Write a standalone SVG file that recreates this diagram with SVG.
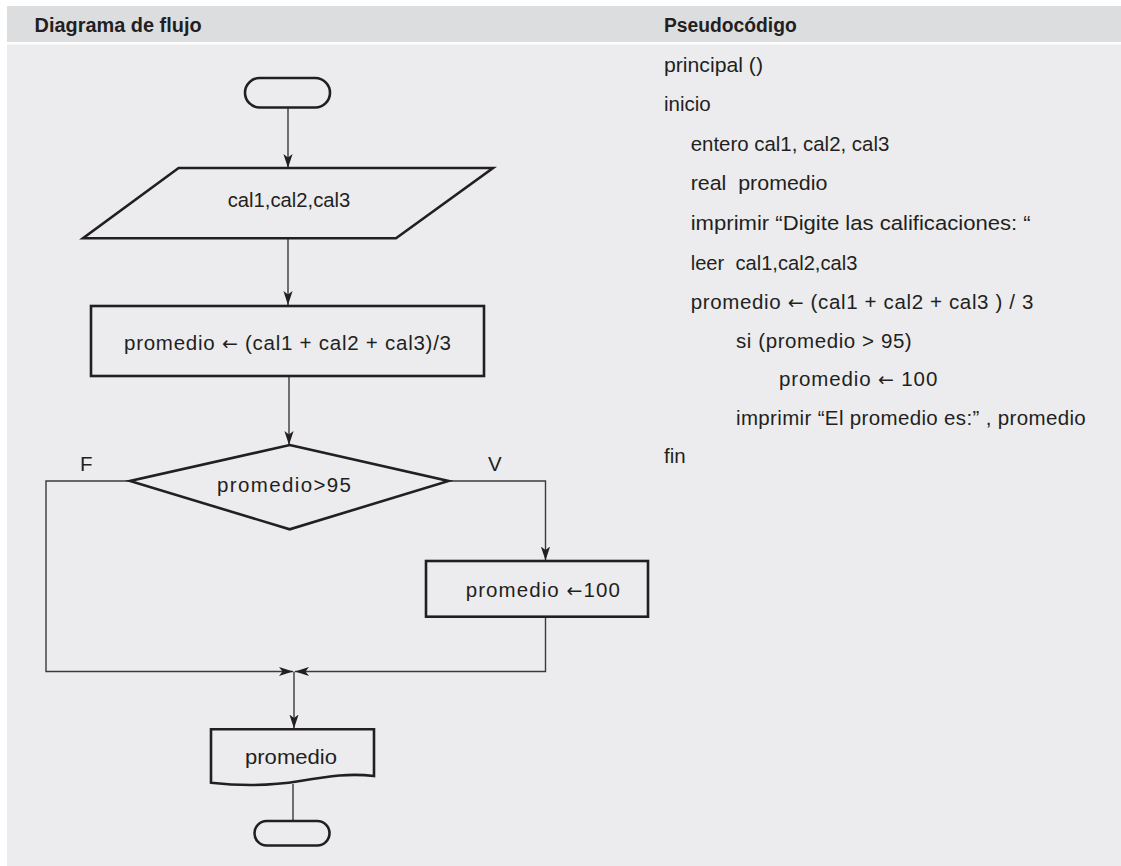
<svg xmlns="http://www.w3.org/2000/svg" width="1121" height="866" viewBox="0 0 1121 866">
<style>
  text { font-family: "Liberation Sans", Arial, sans-serif; fill: #231f20; white-space: pre; }
  .hdr { font-size: 19.5px; font-weight: bold; }
  .lbl { font-size: 20.5px; }
  .code { font-size: 20.5px; }
  .ar { font-family: "DejaVu Sans", sans-serif; font-size: 19px; }
  .shape { fill: none; stroke: #231f20; stroke-width: 2.6; stroke-linejoin: miter; }
  .conn { fill: none; stroke: #3a3a3a; stroke-width: 1.4; }
</style>
<defs>
  <marker id="arrow" markerUnits="userSpaceOnUse" viewBox="-14 -6 15 12" refX="0" refY="0" markerWidth="15" markerHeight="12" orient="auto">
    <path d="M0,0 L-14,-4.6 L-10.5,0 L-14,4.6 Z" fill="#231f20"/>
  </marker>
</defs>
<rect x="0" y="0" width="1121" height="866" fill="#ffffff"/>
<rect x="7" y="6" width="1114" height="36" fill="#dcdddf"/>
<rect x="7" y="44.5" width="1114" height="821.5" fill="#ececee"/>
<text class="hdr" x="34.6" y="31.7" textLength="167" lengthAdjust="spacingAndGlyphs">Diagrama de flujo</text>
<text class="hdr" x="664" y="31.7" textLength="132.7" lengthAdjust="spacingAndGlyphs">Pseudocódigo</text>

<g id="connectors">
  <path class="conn" d="M288,107.5 V168" marker-end="url(#arrow)"/>
  <path class="conn" d="M288,238.5 V305" marker-end="url(#arrow)"/>
  <path class="conn" d="M289,376.5 V445" marker-end="url(#arrow)"/>
  <path class="conn" d="M448.5,481 H545.5 V560.5" marker-end="url(#arrow)"/>
  <path class="conn" d="M130,481 H46 V671.5 H293" marker-end="url(#arrow)"/>
  <path class="conn" d="M545.5,617 V671.5 H295" marker-end="url(#arrow)"/>
  <path class="conn" d="M294,671.5 V728.5" marker-end="url(#arrow)"/>
  <path class="conn" d="M293,784 V821"/>
</g>

<g id="start">
  <rect class="shape" x="245" y="78" width="85" height="29.5" rx="14.7"/>
</g>
<g id="input">
  <polygon class="shape" points="178.6,168 493,168 396,238.3 83,238.3"/>
  <text class="lbl" x="289" y="206.7" text-anchor="middle" textLength="122.5" lengthAdjust="spacingAndGlyphs">cal1,cal2,cal3</text>
</g>
<g id="process">
  <rect class="shape" x="91" y="306" width="393" height="70"/>
  <text class="lbl" x="124" y="349.5" textLength="327" lengthAdjust="spacing">promedio <tspan class="ar">←</tspan> (cal1 + cal2 + cal3)/3</text>
</g>
<g id="decision">
  <polygon class="shape" points="289.7,445 448.5,481 289.7,529.3 130,481"/>
  <text class="lbl" x="217" y="491.7" textLength="134" lengthAdjust="spacing">promedio&gt;95</text>
  <text class="lbl" x="80" y="470.7">F</text>
  <text class="lbl" x="488" y="470.7">V</text>
</g>
<g id="assign">
  <rect class="shape" x="426" y="561" width="222" height="55.7"/>
  <text class="lbl" x="465.7" y="597.2" textLength="154.3" lengthAdjust="spacing">promedio <tspan class="ar">←</tspan>100</text>
</g>
<g id="output">
  <path class="shape" d="M211,729.3 H374 V776 C350,773 330,776 300,781 C270,786 240,786 211,782.7 Z"/>
  <text class="lbl" x="245" y="764" textLength="92" lengthAdjust="spacingAndGlyphs">promedio</text>
</g>
<g id="end">
  <rect class="shape" x="254.5" y="821" width="75" height="24.5" rx="12.2"/>
</g>

<g id="pseudocode">
  <text class="code" x="664" y="71.7" textLength="99" lengthAdjust="spacingAndGlyphs">principal ()</text>
  <text class="code" x="664" y="111">inicio</text>
  <text class="code" x="690.7" y="150.5" textLength="198.6" lengthAdjust="spacingAndGlyphs">entero cal1, cal2, cal3</text>
  <text class="code" x="690.7" y="190" textLength="136.7" lengthAdjust="spacingAndGlyphs">real  promedio</text>
  <text class="code" x="690.7" y="230" textLength="340" lengthAdjust="spacingAndGlyphs">imprimir “Digite las calificaciones: “</text>
  <text class="code" x="690.7" y="270" textLength="166.7" lengthAdjust="spacingAndGlyphs">leer  cal1,cal2,cal3</text>
  <text class="code" x="690.7" y="309" textLength="342.7" lengthAdjust="spacing">promedio <tspan class="ar">←</tspan> (cal1 + cal2 + cal3 ) / 3</text>
  <text class="code" x="736" y="347.5" textLength="175.7" lengthAdjust="spacing">si (promedio &gt; 95)</text>
  <text class="code" x="779" y="386" textLength="158.3" lengthAdjust="spacing">promedio <tspan class="ar">←</tspan> 100</text>
  <text class="code" x="736" y="424.5" textLength="349.7" lengthAdjust="spacing">imprimir “El promedio es:” , promedio</text>
  <text class="code" x="664" y="463">fin</text>
</g>
</svg>
